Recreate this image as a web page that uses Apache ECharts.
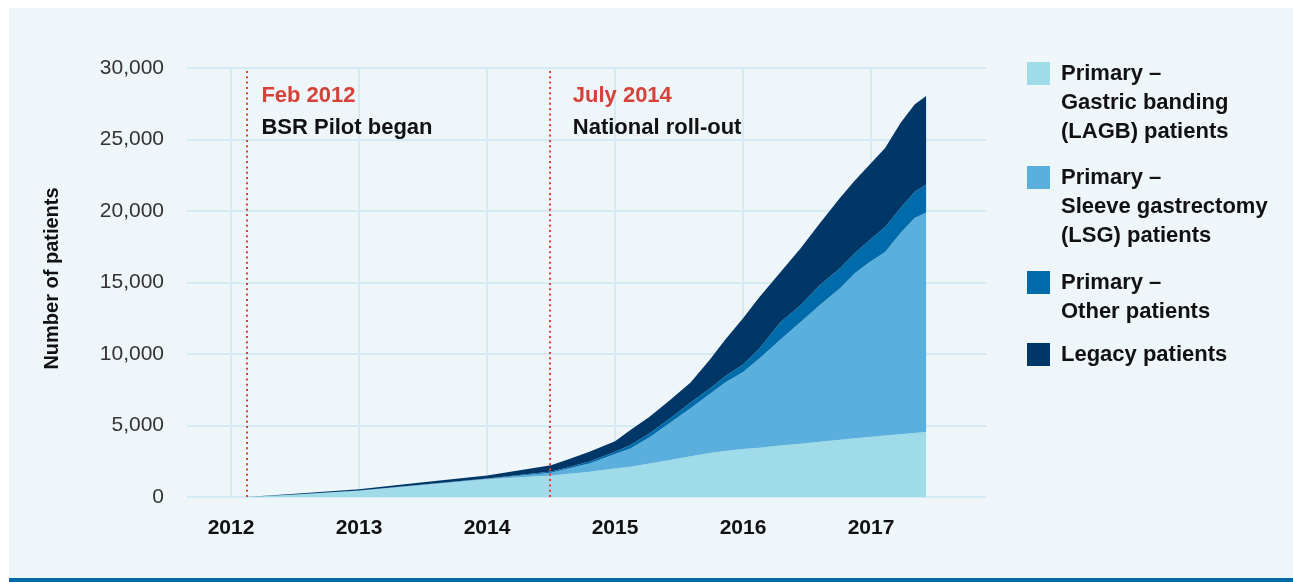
<!DOCTYPE html>
<html>
<head>
<meta charset="utf-8">
<script src="https://cdn.jsdelivr.net/npm/echarts@6/dist/echarts.min.js"></script>
<style>
  html, body { margin: 0; padding: 0; background: #ffffff; }
  #panel {
    position: absolute; left: 9px; top: 8px; width: 1284px; height: 570px;
    background: #EEF6FA; border-bottom: 4px solid #0069A9;
  }
  #chart { position: absolute; left: 0; top: 0; width: 1293px; height: 582px; }
</style>
</head>
<body>
<div id="panel"></div>
<div id="chart"></div>
<script>
// Cumulative patient counts by date (decimal years), one array per group.
const dates = [2012.12, 2012.5, 2013.0, 2013.5, 2014.0, 2014.5, 2014.62, 2014.8, 2015.0, 2015.12,
  2015.27, 2015.43, 2015.59, 2015.74, 2015.86, 2016.0, 2016.13, 2016.29, 2016.45, 2016.6,
  2016.76, 2016.875, 2016.99, 2017.11, 2017.23, 2017.34, 2017.43];

const lagb = [0, 170, 440, 840, 1240, 1500, 1610, 1770, 2000, 2120,
  2350, 2590, 2850, 3080, 3220, 3350, 3440, 3600, 3720, 3860,
  4000, 4100, 4200, 4300, 4380, 4470, 4550];

const lsg = [0, 5, 10, 20, 35, 200, 350, 580, 1000, 1280,
  1820, 2610, 3350, 4120, 4780, 5400, 6260, 7400, 8520, 9570,
  10620, 11560, 12230, 12830, 14080, 15040, 15350];

const other = [0, 5, 10, 15, 20, 80, 90, 130, 170, 240,
  280, 300, 400, 380, 450, 520, 700, 1200, 1190, 1400,
  1390, 1400, 1540, 1750, 1750, 1820, 1950];

const legacy = [0, 40, 90, 165, 205, 440, 540, 690, 730, 1050,
  1170, 1280, 1400, 2020, 2550, 3230, 3600, 3500, 3970, 4320,
  4940, 5090, 5280, 5520, 5940, 6120, 6200];

const seriesNames = [
  'Primary –\nGastric banding\n(LAGB) patients',
  'Primary –\nSleeve gastrectomy\n(LSG) patients',
  'Primary –\nOther patients',
  'Legacy patients'
];

const yearTicks = [2012, 2013, 2014, 2015, 2016, 2017];

// Milestones marked with dotted lines
const milestones = [
  { date: 2012.12, title: 'Feb 2012', text: 'BSR Pilot began' },
  { date: 2014.49, title: 'July 2014', text: 'National roll-out' }
];
const milestoneTextGap = [15, 23];

const FONT = '"Liberation Sans", Arial, Helvetica, sans-serif';
const RED = '#D6423A';
const colors = ['#A0DBE9', '#5BAFDC', '#006BAB', '#003767'];
const groupValues = [lagb, lsg, other, legacy];

const chart = echarts.init(document.getElementById('chart'), null, { renderer: 'canvas' });

// Each point is [count, date] so that the count column is the stacked one.
const series = groupValues.map((vals, i) => ({
  name: seriesNames[i],
  type: 'line',
  stack: 'total',
  symbol: 'none',
  silent: true,
  encode: { x: 1, y: 0 },
  lineStyle: { width: 0 },
  itemStyle: { color: colors[i] },
  areaStyle: { color: colors[i], opacity: 1 },
  data: dates.map((d, k) => [vals[k], d]),
  z: 2
}));

series[0].markLine = {
  silent: true,
  symbol: ['none', 'none'],
  animation: false,
  lineStyle: { color: RED, type: [2, 3.3], width: 2, cap: 'butt' },
  label: {
    show: true,
    position: 'end',
    align: 'left',
    verticalAlign: 'top',
    distance: 0,
    rich: {
      a: { color: RED, fontSize: 22, fontWeight: 'bold', lineHeight: 32, fontFamily: FONT },
      b: { color: '#111111', fontSize: 22, fontWeight: 'bold', lineHeight: 32, fontFamily: FONT }
    }
  },
  data: milestones.map((m, i) => ({
    xAxis: m.date,
    label: {
      padding: [12, 0, 0, milestoneTextGap[i]],
      formatter: '{a|' + m.title + '}\n{b|' + m.text + '}'
    }
  }))
};

// One legend per group; blank leading lines keep the swatch level with the first text line.
const legendTops = [1, 105, 239, 340];
const legends = seriesNames.map((name, i) => {
  const lines = name.split('\n').length;
  return {
    data: [name],
    left: 1027,
    top: legendTops[i],
    padding: 0,
    orient: 'vertical',
    selectedMode: false,
    itemWidth: 23,
    itemHeight: 23,
    icon: 'rect',
    formatter: n => '\n'.repeat(lines - 1) + n,
    textStyle: {
      fontFamily: FONT, fontSize: 22, fontWeight: 'bold', color: '#111111',
      lineHeight: 29, padding: [0, 0, 0, 6]
    }
  };
});

chart.setOption({
  animation: false,
  backgroundColor: 'transparent',
  grid: { left: 187, right: 307, top: 68, bottom: 85 },
  legend: legends,
  xAxis: {
    type: 'value',
    min: 2011.656,
    max: 2017.898,
    axisLine: { show: false },
    axisTick: { show: false, customValues: yearTicks },
    axisLabel: {
      customValues: yearTicks,
      margin: 21,
      fontFamily: FONT, fontSize: 21, fontWeight: 'bold', color: '#111111',
      formatter: v => String(Math.round(v))
    },
    splitLine: { show: true, lineStyle: { color: '#D3EBF4', width: 2 } }
  },
  yAxis: {
    type: 'value',
    min: 0,
    max: 30000,
    interval: 5000,
    name: 'Number of patients',
    nameLocation: 'middle',
    nameGap: 125,
    nameRotate: 90,
    nameTextStyle: {
      fontFamily: FONT, fontSize: 20, fontWeight: 'bold', color: '#111111',
      padding: [0, 0, 0, 8]
    },
    axisLine: { show: false },
    axisTick: { show: false },
    axisLabel: {
      margin: 23,
      fontFamily: FONT, fontSize: 21, color: '#333333',
      formatter: v => String(v).replace(/\B(?=(\d{3})+(?!\d))/g, ',')
    },
    splitLine: { show: true, lineStyle: { color: '#D3EBF4', width: 2 } }
  },
  series: series
});
</script>
</body>
</html>
